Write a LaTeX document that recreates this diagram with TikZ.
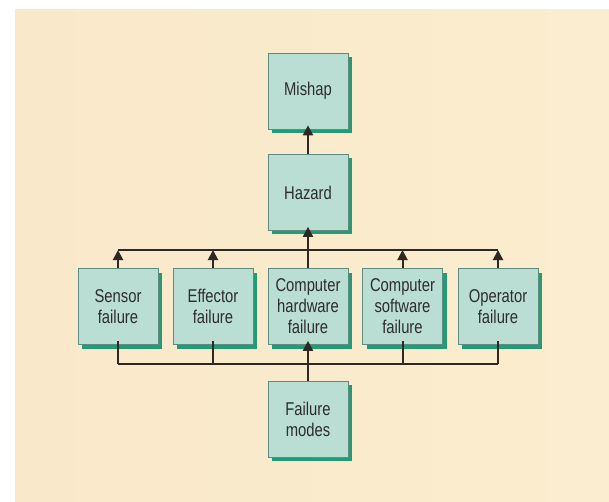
\documentclass[tikz,border=0pt]{standalone}
\usepackage{fontspec}
\newfontfamily\boxfont{Liberation Sans}[FakeStretch=0.8]
\usetikzlibrary{arrows.meta,shadows}
\definecolor{boxfill}{RGB}{186,222,212}
\definecolor{boxline}{RGB}{95,140,128}
\definecolor{boxshade}{RGB}{32,156,118}
\definecolor{txt}{RGB}{45,45,45}
\definecolor{wire}{RGB}{45,40,35}

\begin{document}
\begin{tikzpicture}[x=1pt,y=-1pt,
        line width=2pt,
        b/.style={rectangle, draw=boxline, line width=0.7pt, fill=boxfill,
                        minimum width=80pt, minimum height=76pt,
                        inner sep=0pt, align=center, text=txt,
                        font=\boxfont\fontsize{18.5}{21}\selectfont,
                        drop shadow={shadow xshift=4pt, shadow yshift=-4pt,
                        fill=boxshade, opacity=1}},
        a/.style={draw=wire, -{Triangle[width=10pt,length=10pt]}},
        w/.style={draw=wire}]
    \useasboundingbox (0,0) rectangle (609,502);
    \shade[left color={rgb,255:red,250;green,232;blue,202},
           middle color={rgb,255:red,254;green,247;blue,230},
           right color={rgb,255:red,251;green,237;blue,207}]
        (15,10) rectangle (609,502);

    \node[b] (mishap) at (308,91) {Mishap};
    \node[b] (hazard) at (308,192.5) {Hazard};
    \node[b] (sensor) at (118,306.5) {Sensor\\failure};
    \node[b] (effector) at (213,306.5) {Effector\\failure};
    \node[b] (hw) at (308,306.5) {Computer\\hardware\\failure};
    \node[b] (sw) at (402.5,306.5) {Computer\\software\\failure};
    \node[b] (oper) at (498,306.5) {Operator\\failure};
    \node[b] (modes) at (308,419) {Failure\\modes};

    \coordinate (upper) at (308,250);
    \coordinate (lower) at (308,364);

    % upward chain
    \draw[a] (hazard.north) -- ([yshift=4pt]mishap.south);
    \draw[a] (hw.north) -- ([yshift=4pt]hazard.south);
    \draw[w] (sensor.north |- upper) -- (oper.north |- upper);
    \foreach \n in {sensor,effector,sw,oper}
        \draw[a] (\n.north) -- (\n.north |- upper);

    % failure modes feed
    \draw[w] (sensor.south |- lower) -- (oper.south |- lower);
    \foreach \n in {sensor,effector,sw,oper}
        \draw[w] ([yshift=4pt]\n.south) -- (\n.south |- lower);
    \draw[a] (modes.north) -- ([yshift=4pt]hw.south);
\end{tikzpicture}
\end{document}
